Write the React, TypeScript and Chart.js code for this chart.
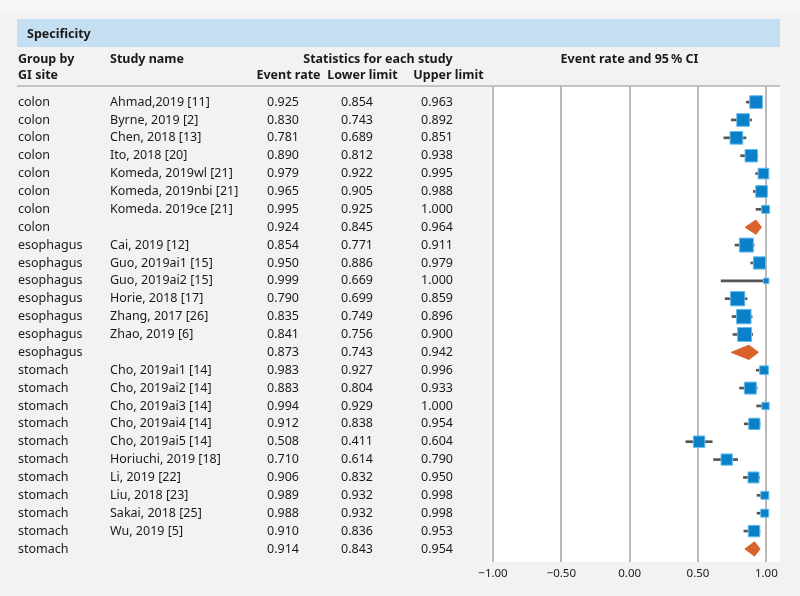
import React, { useEffect, useRef } from "react";
import { Chart, registerables } from "chart.js";

Chart.register(...registerables);

const groups = [
  "colon", "colon", "colon", "colon", "colon", "colon", "colon", "colon",
  "esophagus", "esophagus", "esophagus", "esophagus", "esophagus", "esophagus", "esophagus",
  "stomach", "stomach", "stomach", "stomach", "stomach", "stomach", "stomach", "stomach", "stomach", "stomach", "stomach",
];
const studies = [
  "Ahmad,2019 [11]", "Byrne, 2019 [2]", "Chen, 2018 [13]", "Ito, 2018 [20]",
  "Komeda, 2019wl [21]", "Komeda, 2019nbi [21]", "Komeda. 2019ce [21]", "",
  "Cai, 2019 [12]", "Guo, 2019ai1 [15]", "Guo, 2019ai2 [15]", "Horie, 2018 [17]",
  "Zhang, 2017 [26]", "Zhao, 2019 [6]", "",
  "Cho, 2019ai1 [14]", "Cho, 2019ai2 [14]", "Cho, 2019ai3 [14]", "Cho, 2019ai4 [14]",
  "Cho, 2019ai5 [14]", "Horiuchi, 2019 [18]", "Li, 2019 [22]", "Liu, 2018 [23]",
  "Sakai, 2018 [25]", "Wu, 2019 [5]", "",
];
const eventRates = [
  0.925, 0.83, 0.781, 0.89, 0.979, 0.965, 0.995, 0.924,
  0.854, 0.95, 0.999, 0.79, 0.835, 0.841, 0.873,
  0.983, 0.883, 0.994, 0.912, 0.508, 0.71, 0.906, 0.989, 0.988, 0.91, 0.914,
];
const lowerLimits = [
  0.854, 0.743, 0.689, 0.812, 0.922, 0.905, 0.925, 0.845,
  0.771, 0.886, 0.669, 0.699, 0.749, 0.756, 0.743,
  0.927, 0.804, 0.929, 0.838, 0.411, 0.614, 0.832, 0.932, 0.932, 0.836, 0.843,
];
const upperLimits = [
  0.963, 0.892, 0.851, 0.938, 0.995, 0.988, 1.0, 0.964,
  0.911, 0.979, 1.0, 0.859, 0.896, 0.9, 0.942,
  0.996, 0.933, 1.0, 0.954, 0.604, 0.79, 0.95, 0.998, 0.998, 0.953, 0.954,
];
// relative study weights (square side), 0 = pooled summary row
const weights = [
  12.7, 12.7, 12.7, 12.5, 10.7, 11.7, 8, 0,
  14, 12.3, 5.5, 14.3, 14.5, 14, 0,
  8.7, 12, 7.3, 11.3, 11.5, 11.3, 11, 8, 8, 11.5, 0,
];
const xTicks = [-1, -0.5, 0, 0.5, 1];

const FONT = '"Noto Sans", "DejaVu Sans", sans-serif';
const fmt = (v: number) => v.toFixed(3);
const fmtTick = (v: number) => (v < 0 ? "\u2212" : "") + Math.abs(v).toFixed(2);

export default function App() {
  const ref = useRef<HTMLCanvasElement | null>(null);

  useEffect(() => {
    const canvas = ref.current;
    if (!canvas) return;

    const rows = eventRates.map((_, i) => i);
    const studyRows = rows.filter((i) => weights[i] > 0);
    const summaryRows = rows.filter((i) => weights[i] === 0);
    const diamondHalf = 0.4;

    const ciData = studyRows.map((i) => ({ y: i, x: [lowerLimits[i], upperLimits[i]] }));
    const pointData = studyRows.map((i) => ({ x: eventRates[i], y: i }));
    const pointRadii = studyRows.map((i) => weights[i] / Math.SQRT2);

    const diamondSets = summaryRows.map((i) => ({
      type: "line" as const,
      data: [
        { x: lowerLimits[i], y: i },
        { x: eventRates[i], y: i - diamondHalf },
        { x: upperLimits[i], y: i },
        { x: eventRates[i], y: i + diamondHalf },
        { x: lowerLimits[i], y: i },
      ],
      showLine: true,
      fill: "shape",
      backgroundColor: "#d9622b",
      borderColor: "#d9622b",
      borderWidth: 1,
      pointRadius: 0,
      tension: 0,
      order: 0,
    }));

    const decor = {
      id: "decor",
      beforeDraw(chart: any) {
        const ctx = chart.ctx;
        const { left, right, top, bottom } = chart.chartArea;
        ctx.save();
        ctx.fillStyle = "#f2f2f2";
        ctx.fillRect(0, 0, chart.width, chart.height);
        ctx.fillStyle = "#f8f8f8";
        ctx.fillRect(0, 0, chart.width, 11);
        ctx.fillStyle = "#c5dff2";
        ctx.fillRect(17, 19, 763, 28);
        ctx.fillStyle = "#ffffff";
        ctx.fillRect(left - 2, top, right - left + 2, bottom - top);
        ctx.strokeStyle = "#c4c4c4";
        ctx.lineWidth = 2;
        ctx.beginPath();
        ctx.moveTo(17, top);
        ctx.lineTo(right, top);
        ctx.stroke();
        ctx.restore();
      },
      afterDraw(chart: any) {
        const ctx = chart.ctx;
        const ys = chart.scales.y;
        ctx.save();
        ctx.fillStyle = "#1a1a1a";
        ctx.textBaseline = "middle";
        ctx.font = `bold 12.5px ${FONT}`;
        ctx.textAlign = "left";
        ctx.fillText("Specificity", 27, 34);
        ctx.fillText("Group by", 18, 59);
        ctx.fillText("GI site", 18, 75);
        ctx.fillText("Study name", 110, 59);
        ctx.textAlign = "center";
        ctx.fillText("Statistics for each study", 378, 59);
        ctx.fillText("Event rate", 288.5, 75);
        ctx.fillText("Lower limit", 362.5, 75);
        ctx.fillText("Upper limit", 448.5, 75);
        ctx.fillText("Event rate and 95\u2009% CI", 629.5, 59);

        ctx.font = `12.5px ${FONT}`;
        rows.forEach((i) => {
          const y = ys.getPixelForValue(i);
          ctx.textAlign = "left";
          ctx.fillText(groups[i], 18, y);
          if (studies[i]) ctx.fillText(studies[i], 110, y);
          ctx.textAlign = "right";
          ctx.fillText(fmt(eventRates[i]), 299, y);
          ctx.fillText(fmt(lowerLimits[i]), 373, y);
          ctx.fillText(fmt(upperLimits[i]), 453, y);
        });
        ctx.restore();
      },
    };

    const chart = new Chart(canvas, {
      type: "scatter",
      data: {
        datasets: [
          {
            type: "bar",
            indexAxis: "y",
            data: ciData as any,
            backgroundColor: "#555555",
            borderWidth: 0,
            barThickness: 2,
            borderSkipped: false,
            order: 2,
          } as any,
          {
            type: "scatter",
            data: pointData,
            pointStyle: "rect",
            pointRadius: pointRadii,
            pointHoverRadius: pointRadii,
            backgroundColor: "#0a80c8",
            borderColor: "#68bdec",
            borderWidth: 1,
            order: 1,
          } as any,
          ...(diamondSets as any[]),
        ],
      },
      options: {
        responsive: false,
        animation: false,
        events: [],
        layout: { padding: { left: 493, right: 20, top: 86, bottom: 0 } },
        plugins: { legend: { display: false }, tooltip: { enabled: false } },
        scales: {
          x: {
            type: "linear",
            min: -1,
            max: 1.1,
            offset: false,
            afterBuildTicks: (s: any) => {
              s.ticks = xTicks.map((v) => ({ value: v }));
            },
            afterFit: (s: any) => {
              s.height = 34;
            },
            grid: { color: "#b9b9b9", lineWidth: 2, drawTicks: false, offset: false },
            border: { display: false },
            ticks: {
              padding: 5,
              color: "#1a1a1a",
              font: { family: FONT, size: 11.5 },
              callback: (v: any) => fmtTick(Number(v)),
            },
          },
          y: {
            type: "linear",
            display: false,
            reverse: true,
            offset: false,
            min: -0.9,
            max: 25.73,
          },
        },
      } as any,
      plugins: [decor],
    });

    return () => chart.destroy();
  }, []);

  return (
    <div style={{ position: "absolute", left: 0, top: 0, width: 800, height: 596 }}>
      <canvas ref={ref} width={800} height={596} style={{ display: "block", width: 800, height: 596 }} />
    </div>
  );
}
